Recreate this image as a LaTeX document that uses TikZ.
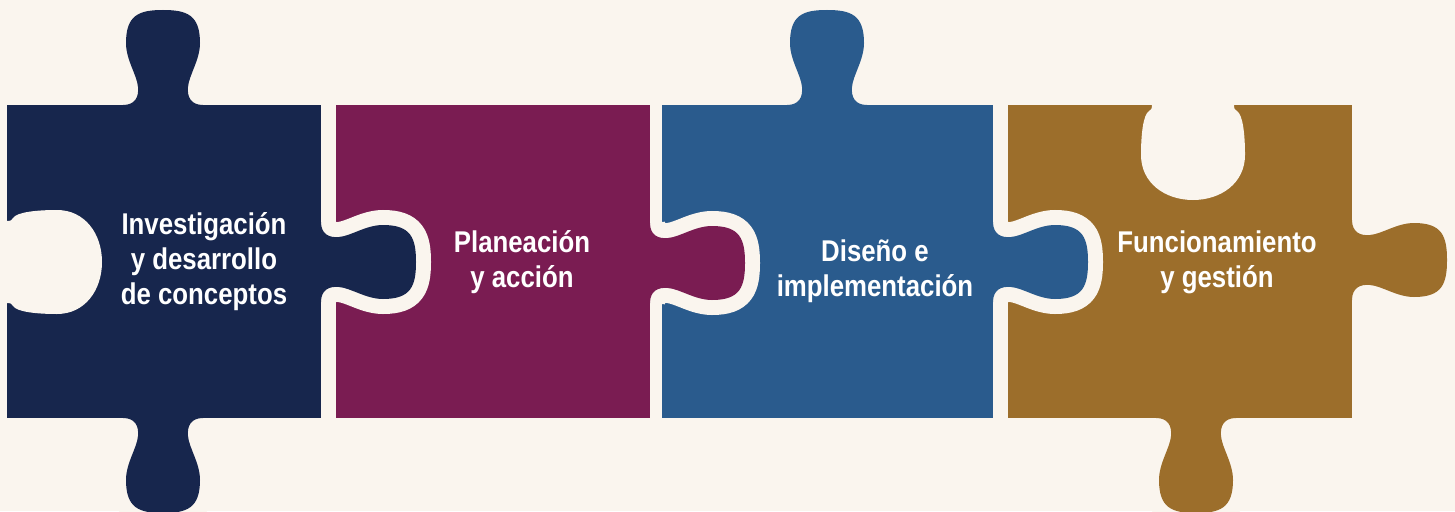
\documentclass[tikz,border=0pt]{standalone}
\usepackage{fontspec}
\newfontfamily\labfont[FakeStretch=0.86]{Liberation Sans}
\definecolor{bgc}{HTML}{FAF5EE}
\definecolor{navyc}{HTML}{17264D}
\definecolor{purplec}{HTML}{7A1C52}
\definecolor{bluec}{HTML}{2A5B8D}
\definecolor{brownc}{HTML}{9C6E2B}
\newcommand\tabcurve{(-40,0) .. controls (-28,0) and (-24,-8) .. (-25,-18)
  .. controls (-26,-30) and (-37,-45) .. (-37,-62)
  .. controls (-37,-90) and (-24,-95) .. (0,-95)
  .. controls (24,-95) and (37,-90) .. (37,-62)
  .. controls (37,-45) and (26,-30) .. (25,-18)
  .. controls (24,-8) and (28,0) .. (40,0)}
\newcommand\puzzletab[4]{%
  \begin{scope}[shift={(#1,#2)},rotate=#3]
    \draw[halo] \tabcurve;
    \fill[#4] \tabcurve -- (40,5) -- (-40,5) -- cycle;
  \end{scope}}
\newcommand\puzzlehole[3]{%
  \begin{scope}[shift={(#1,#2)},rotate=#3]
    \fill[bgc] (-41,-10) -- (-41,0) .. controls (-41,4) and (-42,5) .. (-44,6)
      .. controls (-50,10) and (-52,30) .. (-52,50)
      .. controls (-52,78) and (-28,95) .. (0,95)
      .. controls (28,95) and (52,78) .. (52,50)
      .. controls (52,30) and (50,10) .. (44,6)
      .. controls (42,5) and (41,4) .. (41,0) -- (41,-10) -- cycle;
  \end{scope}}
\begin{document}
\begin{tikzpicture}[x=1pt,y=-1pt,
  halo/.style={draw=bgc,line width=30pt},
  lab/.style={text=white,font=\labfont\bfseries\fontsize{30}{35}\selectfont,align=center}]
\useasboundingbox (0,0) rectangle (1455,511);
\fill[bgc] (0,0) rectangle (1455,511);
% piece 4
\puzzletab{1352}{260}{-90}{brownc}
\puzzletab{1196}{418}{180}{brownc}
\fill[brownc] (1008,105) rectangle (1352,418);
\puzzlehole{1193}{105}{0}
% piece 3
\puzzletab{827}{105}{0}{bluec}
\puzzletab{993}{262}{-90}{bluec}
\fill[bluec] (662,105) rectangle (993,418);
% piece 2
\puzzletab{650}{263}{-90}{purplec}
\fill[purplec] (336,105) rectangle (650,418);
% piece 1
\puzzletab{163}{105}{0}{navyc}
\puzzletab{163}{418}{180}{navyc}
\puzzletab{321}{262}{-90}{navyc}
\fill[navyc] (7,105) rectangle (321,418);
\puzzlehole{7}{262}{90}
% labels
\node[lab] (t1) at (204,262) {Investigación\\y desarrollo\\de conceptos};
\node[lab] (t2) at (522,262) {Planeación\\y acción};
\node[lab] (t3) at (875,271) {Diseño e\\implementación};
\node[lab] (t4) at (1217,262) {Funcionamiento\\y gestión};
\end{tikzpicture}
\end{document}
